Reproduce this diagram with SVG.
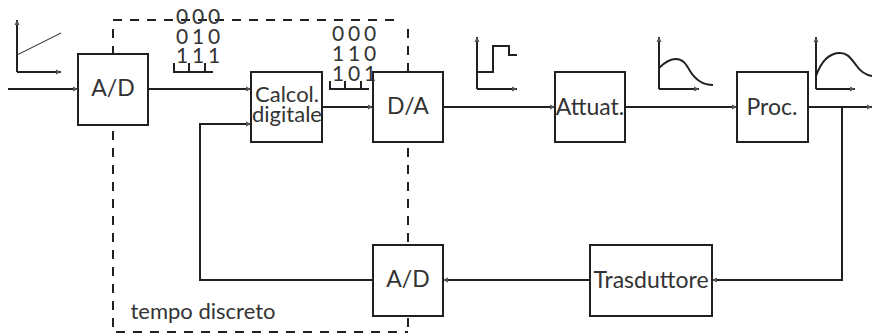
<svg xmlns="http://www.w3.org/2000/svg" width="872" height="336" viewBox="0 0 872 336">
<style>
rect.b{fill:#fff;stroke:#231f20;stroke-width:2}
.l{fill:none;stroke:#231f20;stroke-width:2}
.t{fill:none;stroke:#231f20;stroke-width:1}
.d{fill:none;stroke:#231f20;stroke-width:2;stroke-dasharray:9 8}
text{font-family:"Lato","Open Sans","Liberation Sans",sans-serif;fill:#333;font-size:23px;text-anchor:middle}
.s{font-size:22px}
.n{font-size:21px}
</style>
<defs>
<marker id="a" markerWidth="6" markerHeight="6" refX="5" refY="3" orient="auto" markerUnits="userSpaceOnUse"><path d="M0 0.5L5 3L0 5.5Z" fill="#555"/></marker>
</defs>
<g id="boundary">
<path class="d" d="M113 20H399"/>
<path class="d" d="M113 29V332H408"/>
<path class="d" d="M408 29V332"/>
</g>
<g id="connectors">
<path class="l" marker-end="url(#a)" d="M8 89H78"/>
<path class="l" marker-end="url(#a)" d="M148 89H251"/>
<path class="l" marker-end="url(#a)" d="M322 107H373"/>
<path class="l" marker-end="url(#a)" d="M443 107H555"/>
<path class="l" marker-end="url(#a)" d="M625 107H737"/>
<path class="l" marker-end="url(#a)" d="M808 107H872"/>
<path class="l" marker-end="url(#a)" d="M842 107V280H712"/>
<path class="l" marker-end="url(#a)" d="M590 280H443"/>
<path class="l" marker-end="url(#a)" d="M373 280H200V124H251"/>
</g>
<g id="ad-in"><rect class="b" x="78" y="54" width="70" height="71"/><text x="113" y="96">A/D</text></g>
<g id="calc"><rect class="b" x="251" y="72" width="71" height="70"/><text class="s" x="287" y="102">Calcol.</text><text class="s" x="287" y="122">digitale</text></g>
<g id="da"><rect class="b" x="373" y="72" width="70" height="70"/><text x="408" y="114">D/A</text></g>
<g id="attuat"><rect class="b" x="555" y="72" width="70" height="70"/><text x="590" y="115">Attuat.</text></g>
<g id="proc"><rect class="b" x="737" y="72" width="71" height="70"/><text x="772" y="115">Proc.</text></g>
<g id="ad-fb"><rect class="b" x="373" y="245" width="70" height="71"/><text x="408" y="287">A/D</text></g>
<g id="trasd"><rect class="b" x="590" y="245" width="122" height="71"/><text x="651" y="288">Trasduttore</text></g>
<text x="203" y="319" class="s">tempo discreto</text>
<g id="bits1">
<text class="n" x="182" y="24">0</text><text class="n" x="198" y="24">0</text><text class="n" x="214" y="24">0</text>
<text class="n" x="182" y="44">0</text><text class="n" x="198" y="44">1</text><text class="n" x="214" y="44">0</text>
<text class="n" x="182" y="63">1</text><text class="n" x="198" y="63">1</text><text class="n" x="214" y="63">1</text>
<path class="l" d="M174 63V72H213M189 63V72M205 63V72"/>
</g>
<g id="bits2">
<text class="n" x="338" y="41">0</text><text class="n" x="354" y="41">0</text><text class="n" x="370" y="41">0</text>
<text class="n" x="338" y="61">1</text><text class="n" x="354" y="61">1</text><text class="n" x="370" y="61">0</text>
<text class="n" x="338" y="81">1</text><text class="n" x="354" y="81">0</text><text class="n" x="370" y="81">1</text>
<path class="l" d="M330 81V89H369M345 81V89M361 81V89"/>
</g>
<g id="plot1">
<path class="l" marker-end="url(#a)" d="M17 72V20"/><path class="l" marker-end="url(#a)" d="M17 72H61"/>
<path class="t" d="M17 55L61 33"/>
</g>
<g id="plot2">
<path class="l" marker-end="url(#a)" d="M477 89V37"/><path class="l" marker-end="url(#a)" d="M477 89H517"/>
<path class="l" d="M477 72H493V46H509V55H517"/>
</g>
<g id="plot3">
<path class="l" marker-end="url(#a)" d="M659 89V37"/><path class="l" marker-end="url(#a)" d="M659 89H699"/>
<path class="l" d="M659 68C665 62 670 59 676 59C683 59 686 64 690 71C695 79 703 85 713 85"/>
</g>
<g id="plot4">
<path class="l" marker-end="url(#a)" d="M816 89V37"/><path class="l" marker-end="url(#a)" d="M816 89H855"/>
<path class="l" d="M816 76C821 62 828 53 840 53C848 53 851 59 856 65C860 71 866 75 872 76"/>
</g>
</svg>
